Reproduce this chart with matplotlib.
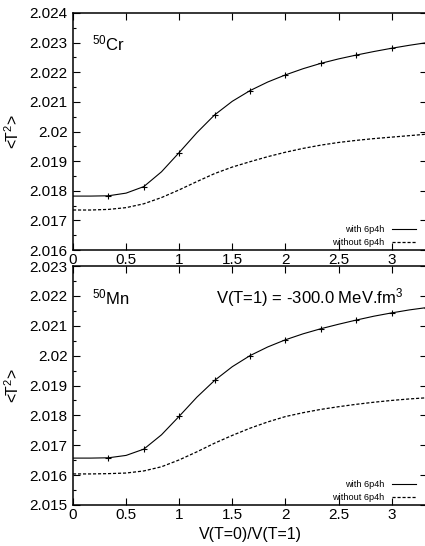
import numpy as np
import matplotlib
matplotlib.use('Agg')
import matplotlib.pyplot as plt
from matplotlib.lines import Line2D

plt.rcParams['font.family'] = ['Liberation Sans', 'DejaVu Sans']
plt.rcParams['mathtext.fontset'] = 'custom'
plt.rcParams['mathtext.rm'] = 'Liberation Sans'
plt.rcParams['mathtext.it'] = 'Liberation Sans:italic'

# x values, every 1/6 from 0 to 10/3
x = np.arange(21) / 6.0

# 50Cr
cr_with = [2.01782, 2.01782, 2.01783, 2.01792, 2.01814, 2.01864, 2.01929,
           2.01996, 2.02056, 2.02102, 2.02138, 2.02167, 2.02191, 2.02212,
           2.02230, 2.02245, 2.02258, 2.02270, 2.02281, 2.02291, 2.02300]
cr_without = [2.01735, 2.01735, 2.01737, 2.01743, 2.01756, 2.01777, 2.01803,
              2.01831, 2.01858, 2.01880, 2.01898, 2.01915, 2.01930, 2.01943,
              2.01954, 2.01963, 2.01970, 2.01976, 2.01981, 2.01986, 2.01991]

# 50Mn
mn_with = [2.01657, 2.01657, 2.01658, 2.01666, 2.01687, 2.01735, 2.01797,
           2.01861, 2.01917, 2.01963, 2.02000, 2.02029, 2.02053, 2.02073,
           2.02090, 2.02105, 2.02119, 2.02132, 2.02143, 2.02153, 2.02161]
mn_without = [2.01604, 2.01604, 2.01605, 2.01607, 2.01614, 2.01628, 2.01651,
              2.01678, 2.01707, 2.01733, 2.01757, 2.01778, 2.01796, 2.01809,
              2.01820, 2.01829, 2.01837, 2.01844, 2.01850, 2.01855, 2.01859]

xticks = [0, 0.5, 1, 1.5, 2, 2.5, 3]

W, H = 425, 546
fig = plt.figure(figsize=(W / 100, H / 100), dpi=100)

def px(l, t, r, b):
    return [l / W, 1 - b / H, (r - l) / W, (b - t) / H]

ax1 = fig.add_axes(px(73, 13, 427, 250))
ax2 = fig.add_axes(px(73, 266, 427, 505))

panels = [
    (ax1, cr_with, cr_without, 2.016, 2.024, r'$^{50}$Cr'),
    (ax2, mn_with, mn_without, 2.015, 2.023, r'$^{50}$Mn'),
]

for ax, yw, yo, lo, hi, name in panels:
    ax.plot(x, yw, color='black', lw=0.8)
    ax.plot(x[2::2], yw[2::2], ls='none', marker='+', ms=4.5, mew=0.8,
            color='black')
    ax.plot(x, yo, color='black', lw=0.9, dashes=(2.5, 1.5))
    ax.set_xlim(0, 10 / 3)
    ax.set_ylim(lo, hi)
    yt = np.round(np.arange(lo, hi + 1e-9, 0.001), 3)
    ax.set_yticks(yt)
    ax.set_yticklabels(['{:g}'.format(v) for v in yt])
    ax.set_yticks(np.round(np.arange(lo, hi, 0.0005), 4), minor=True)
    ax.set_xticks(xticks)
    ax.set_xticklabels(['{:g}'.format(v) for v in xticks])
    ax.tick_params(which='major', direction='in', length=5, width=0.8,
                   top=True, right=True, labelsize=11, pad=4)
    ax.tick_params(axis='x', pad=2)
    ax.tick_params(which='minor', direction='in', length=2.5, width=0.8,
                   left=True, right=False, top=False, bottom=False)
    for s in ax.spines.values():
        s.set_linewidth(1.1)
    ax.set_ylabel(r'<T$^2$>', fontsize=11.5, labelpad=5)
    ax.text(0.054, 0.87, name, transform=ax.transAxes, fontsize=12,
            va='center', ha='left')
    handles = [Line2D([], [], color='black', lw=0.8),
               Line2D([], [], color='black', lw=0.9, dashes=(2.5, 1.5))]
    ax.legend(handles, ['with 6p4h', 'without 6p4h'], loc='lower right',
              bbox_to_anchor=(0.968, 0.012), frameon=False, fontsize=6.6,
              markerfirst=False, handlelength=2.6, handletextpad=0.8,
              labelspacing=0.4, borderpad=0, borderaxespad=0)

ax2.text(0.403, 0.866, r'V(T=1) = -300.0 MeV.fm$^3$', transform=ax2.transAxes,
         fontsize=12, va='center', ha='left')
ax2.set_xlabel('V(T=0)/V(T=1)', fontsize=11.5, labelpad=4)

fig.savefig('out.png', dpi=100)
